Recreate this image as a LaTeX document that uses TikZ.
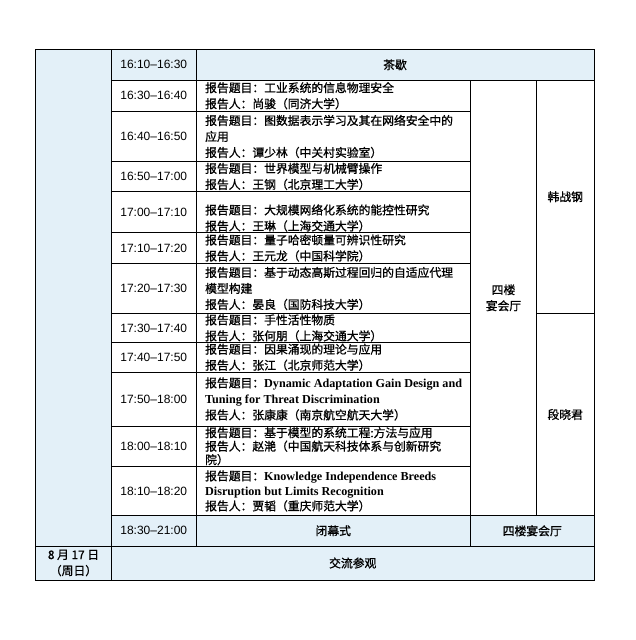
\documentclass[tikz,border=0pt]{standalone}
\usepackage{fontspec}
\usepackage{tikz}
\setmainfont{Liberation Serif}
\newfontfamily\cjk[FakeBold=1]{Noto Sans CJK SC}
\newfontfamily\timefont{Liberation Sans}
\newfontfamily\enfont[Scale=1.03]{Liberation Serif}
\definecolor{cellblue}{RGB}{227,240,248}
\tikzset{
  timecell/.style={font=\timefont\fontsize{12}{16}\selectfont},
  talkcell/.style={anchor=west,align=left,inner sep=0pt,font=\cjk\fontsize{11.8}{16}\selectfont},
  plaincell/.style={align=center,font=\cjk\fontsize{11.8}{16}\selectfont},
  grid/.style={line width=0.8pt,black}
}
\newcommand{\en}[1]{{\enfont\bfseries #1}}

\begin{document}
\begin{tikzpicture}[x=1pt,y=-1pt]
\useasboundingbox (0,0) rectangle (636,640);
\fill[cellblue] (35.5,49.5) rectangle (111.5,580);
\fill[cellblue] (111.5,49.5) rectangle (594,80);
\fill[cellblue] (111.5,515.5) rectangle (594,580);

\draw[grid] (35.5,49.5) rectangle (594,580);
\draw[grid] (111.5,49.5) -- (111.5,580);
\draw[grid] (196,49.5) -- (196,546);
\draw[grid] (470.5,80) -- (470.5,546);
\draw[grid] (536.5,80) -- (536.5,515.5);
\draw[grid] (111.5,80) -- (594,80);
\draw[grid] (111.5,111.5) -- (470.5,111.5);
\draw[grid] (111.5,161.5) -- (470.5,161.5);
\draw[grid] (111.5,191.5) -- (470.5,191.5);
\draw[grid] (111.5,232.5) -- (470.5,232.5);
\draw[grid] (111.5,263.5) -- (470.5,263.5);
\draw[grid] (111.5,313.5) -- (470.5,313.5);
\draw[grid] (536.5,313.5) -- (594,313.5);
\draw[grid] (111.5,342.5) -- (470.5,342.5);
\draw[grid] (111.5,372) -- (470.5,372);
\draw[grid] (111.5,426) -- (470.5,426);
\draw[grid] (111.5,466.5) -- (470.5,466.5);
\draw[grid] (111.5,515.5) -- (594,515.5);
\draw[grid] (35.5,546) -- (594,546);

\node[timecell] (t1) at (153.75,64.75) {16:10–16:30};
\node[timecell] (t2) at (153.75,95.75) {16:30–16:40};
\node[timecell] (t3) at (153.75,136.5) {16:40–16:50};
\node[timecell] (t4) at (153.75,176.5) {16:50–17:00};
\node[timecell] (t5) at (153.75,212) {17:00–17:10};
\node[timecell] (t6) at (153.75,248) {17:10–17:20};
\node[timecell] (t7) at (153.75,288.5) {17:20–17:30};
\node[timecell] (t8) at (153.75,328) {17:30–17:40};
\node[timecell] (t9) at (153.75,357.25) {17:40–17:50};
\node[timecell] (t10) at (153.75,399) {17:50–18:00};
\node[timecell] (t11) at (153.75,446.25) {18:00–18:10};
\node[timecell] (t12) at (153.75,491) {18:10–18:20};
\node[timecell] (t13) at (153.75,530.75) {18:30–21:00};

\node[plaincell] (tea) at (395,64.75) {茶歇};
\node[talkcell] (talk1) at (205,95.75) {报告题目：工业系统的信息物理安全\\报告人：尚骏（同济大学）};
\node[talkcell] (talk2) at (205,136.5) {报告题目：图数据表示学习及其在网络安全中的\\应用\\报告人：谭少林（中关村实验室）};
\node[talkcell] (talk3) at (205,176.5) {报告题目：世界模型与机械臂操作\\报告人：王钢（北京理工大学）};
\node[talkcell] (talk4) at (205,218) {报告题目：大规模网络化系统的能控性研究\\报告人：王琳（上海交通大学）};
\node[talkcell] (talk5) at (205,248) {报告题目：量子哈密顿量可辨识性研究\\报告人：王元龙（中国科学院）};
\node[talkcell] (talk6) at (205,288.5) {报告题目：基于动态高斯过程回归的自适应代理\\模型构建\\报告人：晏良（国防科技大学）};
\node[talkcell] (talk7) at (205,328) {报告题目：手性活性物质\\报告人：张何朋（上海交通大学）};
\node[talkcell] (talk8) at (205,357.25) {报告题目：因果涌现的理论与应用\\报告人：张江（北京师范大学）};
\node[talkcell] (talk9) at (205,399) {报告题目：\en{Dynamic Adaptation Gain Design and}\\\en{Tuning for Threat Discrimination}\\报告人：张康康（南京航空航天大学）};
\node[talkcell,font=\cjk\fontsize{11.8}{13.5}\selectfont] (talk10) at (205,446.25) {报告题目：基于模型的系统工程:方法与应用\\报告人：赵滟（中国航天科技体系与创新研究\\院）};
\node[talkcell,font=\cjk\fontsize{11.8}{15}\selectfont] (talk11) at (205,491) {报告题目：\en{Knowledge Independence Breeds}\\\en{Disruption but Limits Recognition}\\报告人：贾韬（重庆师范大学）};

\node[plaincell] (hall) at (503.5,297.75) {四楼\\宴会厅};
\node[plaincell] (chair1) at (565.25,196.75) {韩战钢};
\node[plaincell] (chair2) at (565.25,414.5) {段晓君};
\node[plaincell] (closing) at (333.25,530.75) {闭幕式};
\node[plaincell] (hall2) at (532.25,530.75) {四楼宴会厅};
\node[plaincell] (day) at (73.5,563) {8 月 17 日\\（周日）};
\node[plaincell] (visit) at (352.75,563) {交流参观};
\end{tikzpicture}
\end{document}
